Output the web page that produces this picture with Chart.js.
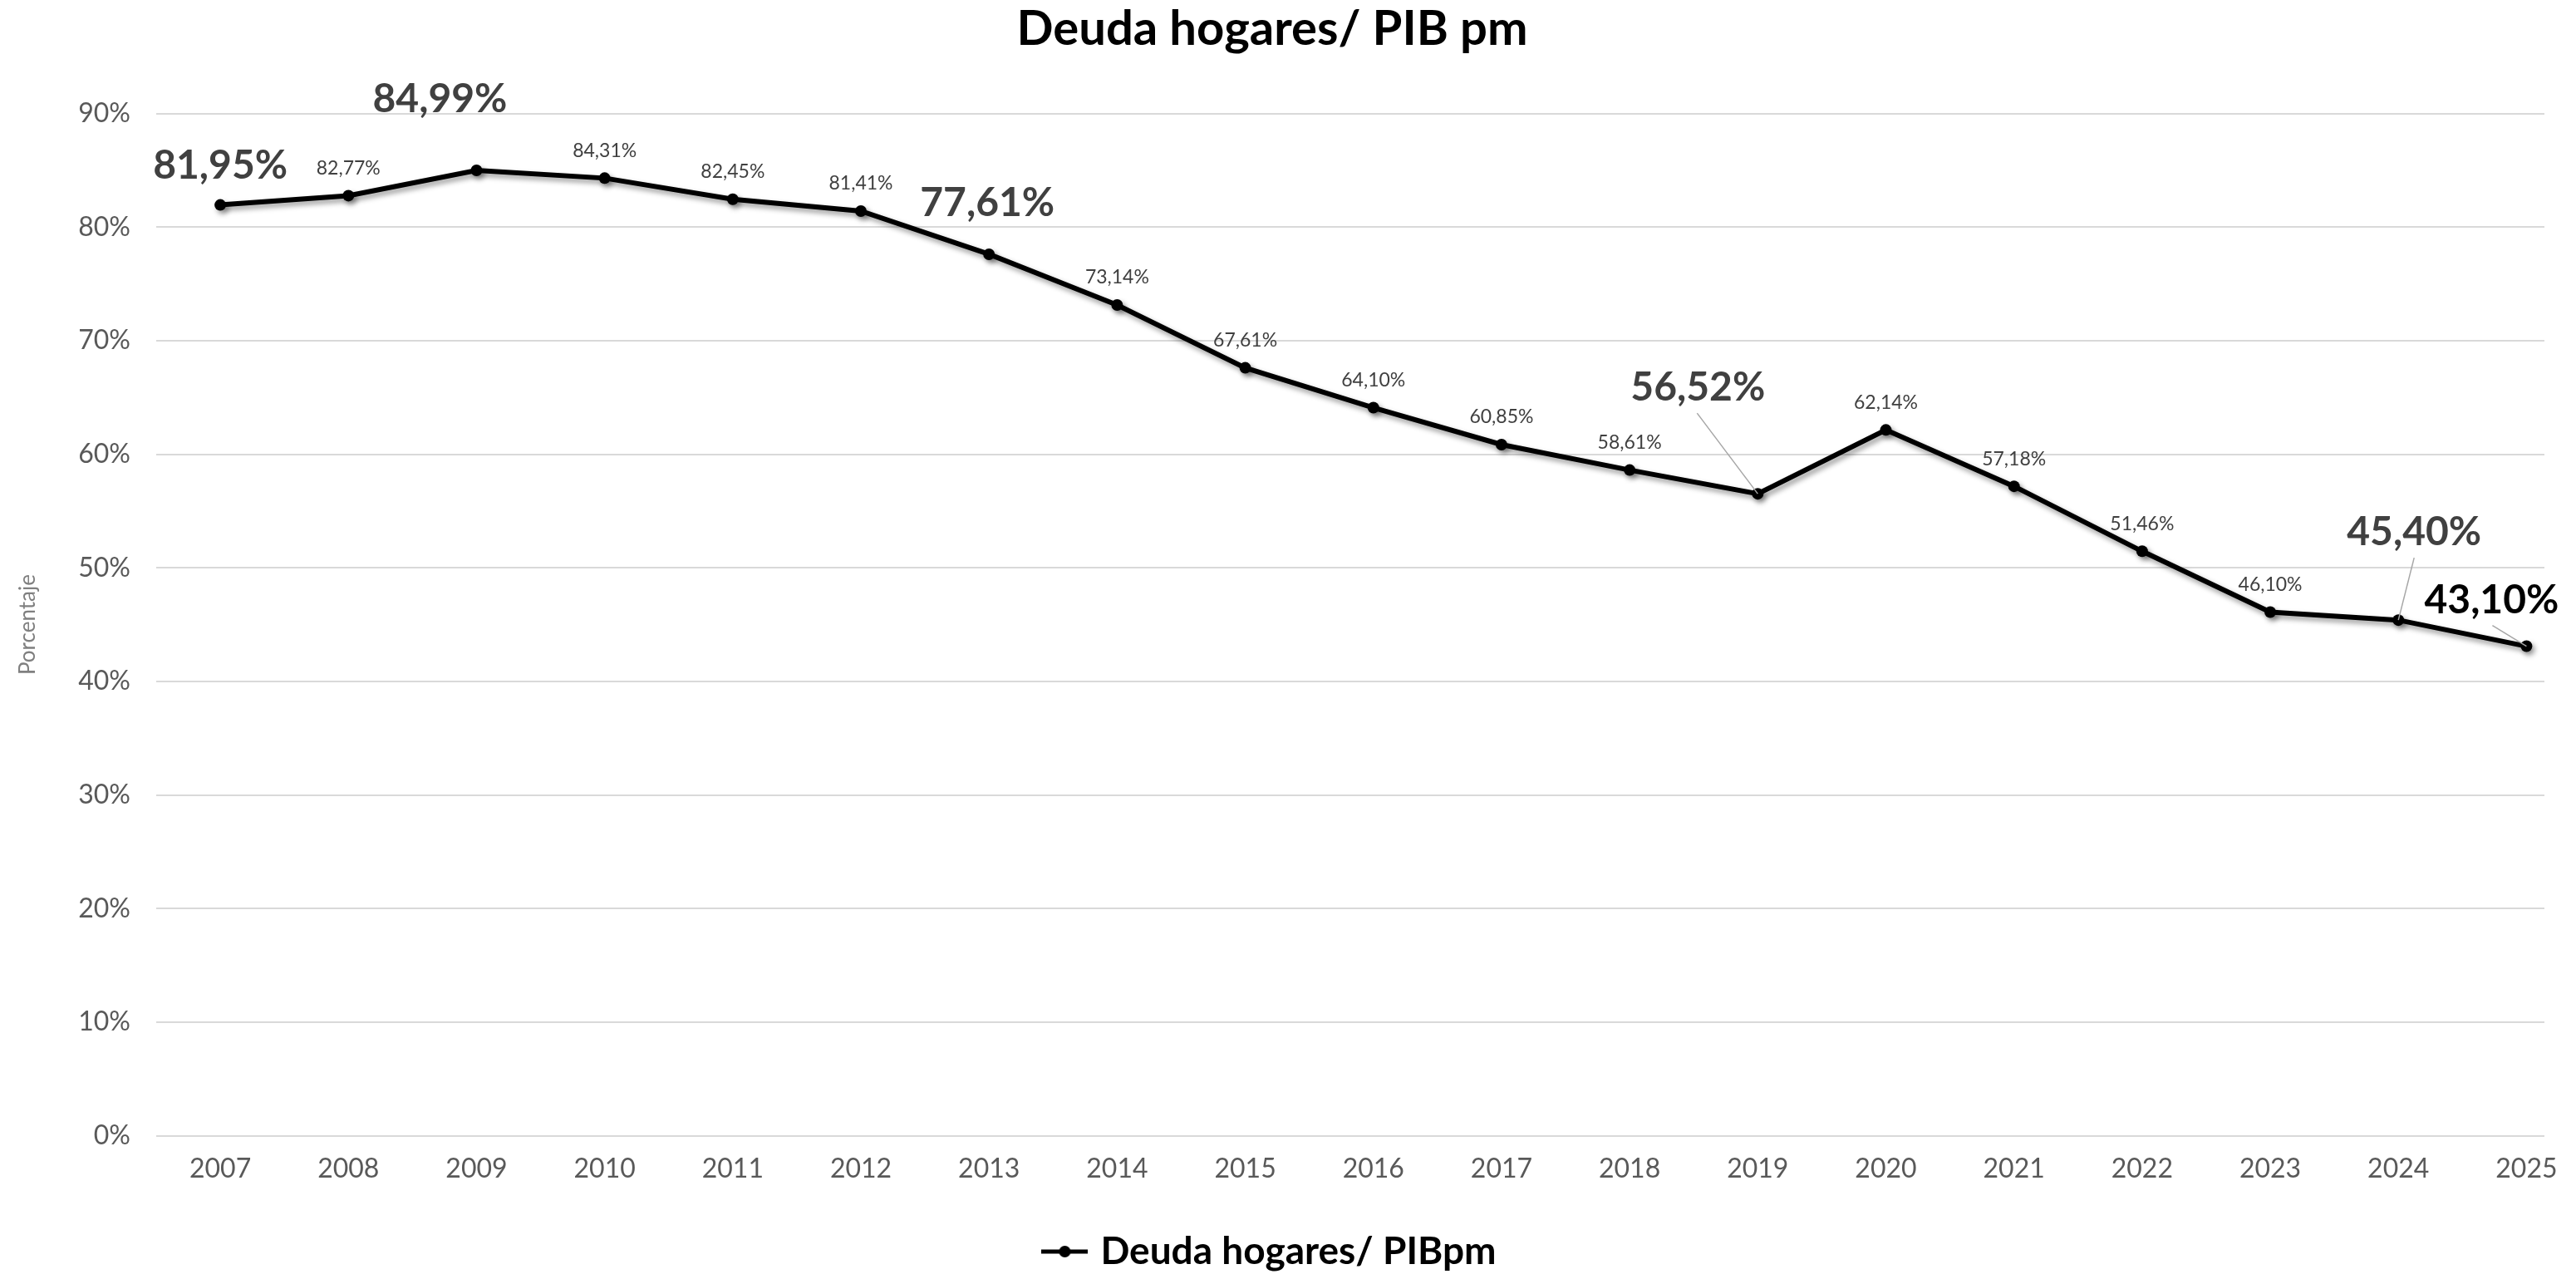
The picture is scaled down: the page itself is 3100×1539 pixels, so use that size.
<!DOCTYPE html>
<html>
<head>
<meta charset="utf-8">
<script src="https://cdn.jsdelivr.net/npm/chart.js@4/dist/chart.umd.min.js"></script>
<style>
  html, body { margin: 0; padding: 0; background: #fff; }
  #wrap { width: 3100px; height: 1539px; }
</style>
</head>
<body>
<div id="wrap"><canvas id="deudaChart"></canvas></div>
<script>
const years = [2007, 2008, 2009, 2010, 2011, 2012, 2013, 2014, 2015, 2016, 2017, 2018, 2019, 2020, 2021, 2022, 2023, 2024, 2025];
const deudaPib = [81.95, 82.77, 84.99, 84.31, 82.45, 81.41, 77.61, 73.14, 67.61, 64.10, 60.85, 58.61, 56.52, 62.14, 57.18, 51.46, 46.10, 45.40, 43.10];
const yTicks = [0, 10, 20, 30, 40, 50, 60, 70, 80, 90];
const chartTitle = 'Deuda hogares/ PIB pm';
const seriesName = 'Deuda hogares/ PIBpm';
const yTitle = 'Porcentaje';

// label placement (offsets from the point), big ones are highlighted
const labelStyles = {
    2007: {big: true, dx: 0, dy: -47},
    2009: {big: true, dx: -44, dy: -86},
    2013: {big: true, dx: -2, dy: -61},
    2019: {big: true, dx: -72, dy: -128, leader: [-73, -97]},
    2024: {big: true, dx: 19, dy: -106, leader: [19, -75]},
    2025: {big: true, dx: -42, dy: -55, color: '#000000', leader: [-41, -25]}
};

const FONT = 'Lato, "Open Sans", sans-serif';
const fmt = v => v.toFixed(2).replace('.', ',') + '%';

// legend symbol: line with a dot
const legendIcon = document.createElement('canvas');
legendIcon.width = 56; legendIcon.height = 16;
(() => {
    const c = legendIcon.getContext('2d');
    c.strokeStyle = '#000'; c.lineWidth = 5;
    c.beginPath(); c.moveTo(0, 8); c.lineTo(56, 8); c.stroke();
    c.fillStyle = '#000';
    c.beginPath(); c.arc(28, 8, 7, 0, Math.PI * 2); c.fill();
})();

const shadowPlugin = {
    id: 'lineShadow',
    beforeDatasetsDraw(chart) {
        const ctx = chart.ctx;
        ctx.save();
        ctx.shadowColor = 'rgba(0,0,0,0.4)';
        ctx.shadowBlur = 6;
        ctx.shadowOffsetX = 3;
        ctx.shadowOffsetY = 4;
    },
    afterDatasetsDraw(chart) {
        chart.ctx.restore();
        const ctx = chart.ctx;
        const meta = chart.getDatasetMeta(0);
        ctx.save();
        ctx.textAlign = 'center';
        ctx.textBaseline = 'middle';
        meta.data.forEach((pt, i) => {
            const yr = years[i];
            const st = labelStyles[yr] || {big: false, dx: 0, dy: -33};
            if (st.leader) {
                ctx.strokeStyle = '#a6a6a6';
                ctx.lineWidth = 1.5;
                ctx.beginPath();
                ctx.moveTo(pt.x + st.leader[0], pt.y + st.leader[1]);
                ctx.lineTo(pt.x, pt.y);
                ctx.stroke();
            }
            ctx.fillStyle = st.color || '#404040';
            ctx.font = st.big ? 'bold 48px ' + FONT : '23px ' + FONT;
            ctx.fillText(fmt(deudaPib[i]), pt.x + st.dx, pt.y + st.dy);
        });
        ctx.restore();
    }
};

new Chart(document.getElementById('deudaChart'), {
    type: 'line',
    data: {
        datasets: [{
            label: seriesName,
            data: years.map((y, i) => ({x: y, y: deudaPib[i]})),
            borderColor: '#000000',
            backgroundColor: '#000000',
            borderWidth: 6,
            pointRadius: 7,
            pointBackgroundColor: '#000000',
            pointBorderWidth: 0,
            tension: 0,
            fill: false
        }]
    },
    options: {
        responsive: true,
        maintainAspectRatio: false,
        animation: false,
        layout: {padding: {left: 0, right: 38, top: 0, bottom: 0}},
        scales: {
            x: {
                type: 'linear',
                min: 2006.5,
                max: 2025.14,
                afterBuildTicks: s => { s.ticks = years.map(v => ({value: v})); },
                afterFit: s => { s.paddingLeft = 0; s.paddingRight = 0; s.height += 26; },
                grid: {display: false, drawTicks: false},
                border: {display: false},
                ticks: {
                    callback: v => String(v),
                    font: {family: FONT, size: 32},
                    color: '#595959',
                    padding: 21,
                    maxRotation: 0,
                    autoSkip: false
                }
            },
            y: {
                min: 0,
                max: 90,
                afterBuildTicks: s => { s.ticks = yTicks.map(v => ({value: v})); },
                afterFit: s => { s.width = 188; s.paddingTop = 0; s.paddingBottom = 0; },
                grid: {color: '#d9d9d9', lineWidth: 2, drawTicks: false},
                border: {display: false},
                ticks: {
                    callback: v => v + '%',
                    font: {family: FONT, size: 32},
                    color: '#595959',
                    padding: 31
                },
                title: {
                    display: true,
                    text: yTitle,
                    font: {family: FONT, size: 26},
                    color: '#808080',
                    padding: {top: 18, bottom: 0}
                }
            }
        },
        plugins: {
            title: {
                display: true,
                text: chartTitle,
                font: {family: FONT, size: 58, weight: 'bold'},
                color: '#000000',
                padding: {top: 0, bottom: 67}
            },
            legend: {
                position: 'bottom',
                labels: {
                    usePointStyle: true,
                    pointStyle: legendIcon,
                    pointStyleWidth: 40,
                    font: {family: FONT, size: 46, weight: 'bold'},
                    color: '#000000',
                    padding: 10
                }
            },
            tooltip: {enabled: false}
        }
    },
    plugins: [shadowPlugin]
});
</script>
</body>
</html>
